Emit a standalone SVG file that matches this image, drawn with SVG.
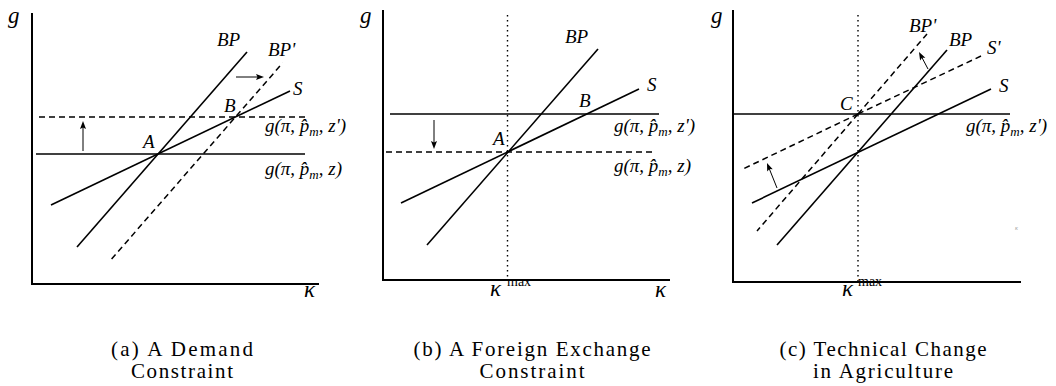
<svg xmlns="http://www.w3.org/2000/svg" width="1056" height="386" viewBox="0 0 1056 386">
<g id="panel-a">
<path d="M32,13 V284 H319" stroke="#000" stroke-width="2" fill="none"/>
<g stroke="#000" stroke-width="1.6" fill="none">
<path d="M36,154 H305"/>
<path d="M77,247 L247,52"/>
<path d="M51,205 L290,91"/>
</g>
<g stroke="#000" stroke-width="1.5" fill="none" stroke-dasharray="6 4">
<path d="M39,117 H305"/>
<path d="M111.6,259 L282.6,63"/>
</g>
</g>
<g id="panel-b">
<path d="M383,10 V280 H670" stroke="#000" stroke-width="2" fill="none"/>
<path d="M507.5,15 V280" stroke="#000" stroke-width="1.4" fill="none" stroke-dasharray="1.4 3.6"/>
<g stroke="#000" stroke-width="1.6" fill="none">
<path d="M390,114 H659"/>
<path d="M427,245 L598,49"/>
<path d="M401,203 L639,89"/>
</g>
<path d="M386,152 H654" stroke="#000" stroke-width="1.5" fill="none" stroke-dasharray="6 4"/>
</g>
<g id="panel-c">
<path d="M733,10 V282 H1021" stroke="#000" stroke-width="2" fill="none"/>
<path d="M858,15 V282" stroke="#000" stroke-width="1.4" fill="none" stroke-dasharray="1.4 3.6"/>
<g stroke="#000" stroke-width="1.6" fill="none">
<path d="M734,114 H1010"/>
<path d="M777,245 L947,50"/>
<path d="M752,203 L991,89"/>
</g>
<g stroke="#000" stroke-width="1.5" fill="none" stroke-dasharray="6 4">
<path d="M858,114 L927,34"/>
<path d="M858,114 L757,231"/>
<path d="M858,114 L981,56"/>
<path d="M858,114 L743,169"/>
</g>
</g>
<g id="connectors">
<g stroke="#000" stroke-width="1" fill="none">
<path d="M83,151 V124"/>
<path d="M236,77 H261"/>
<path d="M434,120 V146"/>
<path d="M777,188 L768.5,166.8"/>
<path d="M928,69 L920.5,54.8"/>
</g>
<g fill="#000">
<polygon points="83,121 86,129 83,127.5 80,129"/>
<polygon points="264,77 256,80 257.5,77 256,74"/>
<polygon points="434,149 431,141 434,142.5 437,141"/>
<polygon points="767,163 772.75,169.32 769.41,169.03 767.19,171.54"/>
<polygon points="919,52 925.39,57.67 922.04,57.75 920.09,60.47"/>
</g>
</g>
<text font-family="Liberation Serif" font-style="italic" font-size="23" x="8" y="23">g</text>
<text font-family="Liberation Serif" font-style="italic" font-size="23" x="304" y="297">κ</text>
<text font-family="Liberation Serif" font-style="italic" font-size="19" x="143" y="148">A</text>
<text font-family="Liberation Serif" font-style="italic" font-size="19" x="224" y="112">B</text>
<text font-family="Liberation Serif" font-style="italic" font-size="19" x="217" y="46">BP</text>
<text font-family="Liberation Serif" font-style="italic" font-size="19" x="268" y="56">BP'</text>
<text font-family="Liberation Serif" font-style="italic" font-size="19" x="293" y="95">S</text>
<text font-family="Liberation Serif" font-style="italic" font-size="19" x="265" y="132">g(π, p̂<tspan font-size="13" dy="4">m</tspan><tspan dy="-4">, z')</tspan></text>
<text font-family="Liberation Serif" font-style="italic" font-size="19" x="265" y="175">g(π, p̂<tspan font-size="13" dy="4">m</tspan><tspan dy="-4">, z)</tspan></text>
<text font-family="Liberation Serif" font-style="italic" font-size="23" x="360" y="23">g</text>
<text font-family="Liberation Serif" font-style="italic" font-size="23" x="490" y="296">κ</text>
<text font-family="Liberation Serif" font-size="14" x="507" y="286">max</text>
<text font-family="Liberation Serif" font-style="italic" font-size="23" x="655" y="297">κ</text>
<text font-family="Liberation Serif" font-style="italic" font-size="19" x="493" y="145">A</text>
<text font-family="Liberation Serif" font-style="italic" font-size="19" x="579" y="107">B</text>
<text font-family="Liberation Serif" font-style="italic" font-size="19" x="565" y="43">BP</text>
<text font-family="Liberation Serif" font-style="italic" font-size="19" x="647" y="91">S</text>
<text font-family="Liberation Serif" font-style="italic" font-size="19" x="614" y="132">g(π, p̂<tspan font-size="13" dy="4">m</tspan><tspan dy="-4">, z')</tspan></text>
<text font-family="Liberation Serif" font-style="italic" font-size="19" x="614" y="172">g(π, p̂<tspan font-size="13" dy="4">m</tspan><tspan dy="-4">, z)</tspan></text>
<text font-family="Liberation Serif" font-style="italic" font-size="23" x="711" y="23">g</text>
<text font-family="Liberation Serif" font-style="italic" font-size="23" x="842" y="296">κ</text>
<text font-family="Liberation Serif" font-size="14" x="858" y="286">max</text>
<text font-family="Liberation Serif" font-style="italic" font-size="6" fill="#999" x="1015" y="230">κ</text>
<text font-family="Liberation Serif" font-style="italic" font-size="19" x="840" y="110">C</text>
<text font-family="Liberation Serif" font-style="italic" font-size="19" x="909" y="32">BP'</text>
<text font-family="Liberation Serif" font-style="italic" font-size="19" x="949" y="46">BP</text>
<text font-family="Liberation Serif" font-style="italic" font-size="19" x="987" y="54">S'</text>
<text font-family="Liberation Serif" font-style="italic" font-size="19" x="999" y="92">S</text>
<text font-family="Liberation Serif" font-style="italic" font-size="19" x="966" y="132">g(π, p̂<tspan font-size="13" dy="4">m</tspan><tspan dy="-4">, z')</tspan></text>
<text font-family="Liberation Serif" font-size="21" text-anchor="middle" x="182" y="356" textLength="142" lengthAdjust="spacing">(a) A Demand</text>
<text font-family="Liberation Serif" font-size="21" text-anchor="middle" x="182" y="378" textLength="102" lengthAdjust="spacing">Constraint</text>
<text font-family="Liberation Serif" font-size="21" text-anchor="middle" x="532" y="356" textLength="237" lengthAdjust="spacing">(b) A Foreign Exchange</text>
<text font-family="Liberation Serif" font-size="21" text-anchor="middle" x="532" y="378" textLength="105" lengthAdjust="spacing">Constraint</text>
<text font-family="Liberation Serif" font-size="21" text-anchor="middle" x="883" y="356" textLength="207" lengthAdjust="spacing">(c) Technical Change</text>
<text font-family="Liberation Serif" font-size="21" text-anchor="middle" x="883" y="378" textLength="140" lengthAdjust="spacing">in Agriculture</text>
</svg>
